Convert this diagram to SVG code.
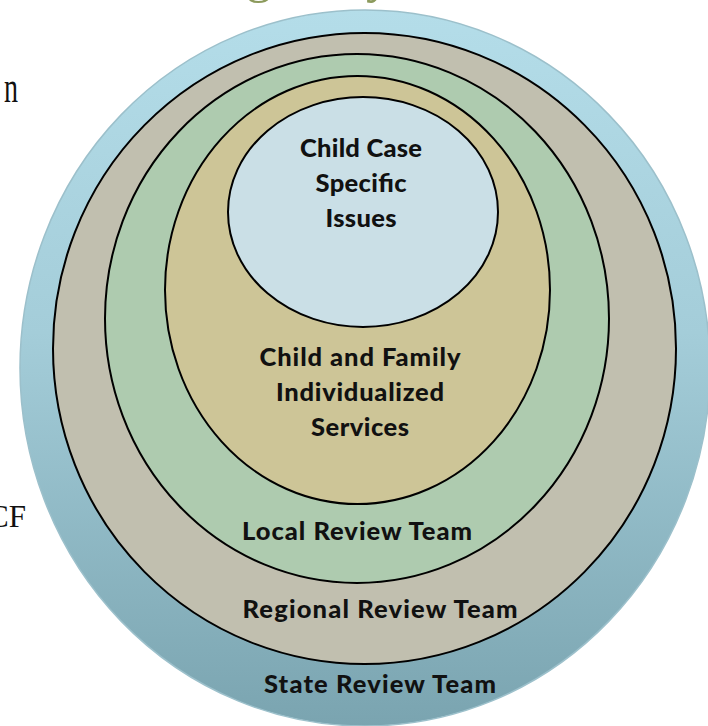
<svg xmlns="http://www.w3.org/2000/svg" width="708" height="726" viewBox="0 0 708 726">
  <defs>
    <linearGradient id="outerGrad" x1="0" y1="0" x2="0" y2="1">
      <stop offset="0" stop-color="#b4dde9"/>
      <stop offset="0.45" stop-color="#a4cdd9"/>
      <stop offset="1" stop-color="#7aa4b0"/>
    </linearGradient>
  </defs>
  <style>
    .ring { stroke: #000; stroke-width: 2; }
    .lbl { font-family: Lato, "Open Sans", "Liberation Sans", sans-serif; font-weight: 900; font-size: 25.5px; fill: #111; text-anchor: middle; }
    .side { font-family: "Liberation Serif", "DejaVu Serif", serif; fill: #111; }
    .olive { font-family: "Liberation Serif", serif; fill: #8c9a5c; }
  </style>
  <rect width="708" height="726" fill="#fff"/>

  <g id="title-fragments">
    <text class="olive" x="246" y="-8" font-size="52">g</text>
    <text class="olive" x="366" y="-8" font-size="52">y</text>
    <text class="side" x="4" y="102" font-size="44" textLength="14" lengthAdjust="spacingAndGlyphs">n</text>
    <text class="side" x="26" y="527" font-size="31" text-anchor="end">CF</text>
  </g>

  <g id="state">
    <ellipse cx="365" cy="368" rx="345" ry="358" fill="url(#outerGrad)" stroke="#9cc0cb" stroke-width="1.5"/>
    <text class="lbl" x="380" y="693" textLength="232">State Review Team</text>
  </g>

  <g id="regional">
    <ellipse class="ring" cx="364.5" cy="348.5" rx="311.5" ry="315.5" fill="#c1bfaf"/>
    <text class="lbl" x="380" y="618" textLength="275">Regional Review Team</text>
  </g>

  <g id="local">
    <ellipse class="ring" cx="357" cy="318.5" rx="252" ry="264.5" fill="#aecbaf"/>
    <text class="lbl" x="357" y="540" textLength="230">Local Review Team</text>
  </g>

  <g id="family">
    <ellipse class="ring" cx="357.5" cy="290" rx="192.5" ry="214" fill="#cdc597"/>
    <text class="lbl" x="360" y="366" textLength="201">Child and Family</text>
    <text class="lbl" x="360" y="401" textLength="168">Individualized</text>
    <text class="lbl" x="360" y="436" textLength="98">Services</text>
  </g>

  <g id="child">
    <ellipse class="ring" cx="363" cy="212" rx="135" ry="115" fill="#cadfe6"/>
    <text class="lbl" x="361" y="157" textLength="122">Child Case</text>
    <text class="lbl" x="361" y="192" textLength="91">Specific</text>
    <text class="lbl" x="361" y="227" textLength="71">Issues</text>
  </g>
</svg>
